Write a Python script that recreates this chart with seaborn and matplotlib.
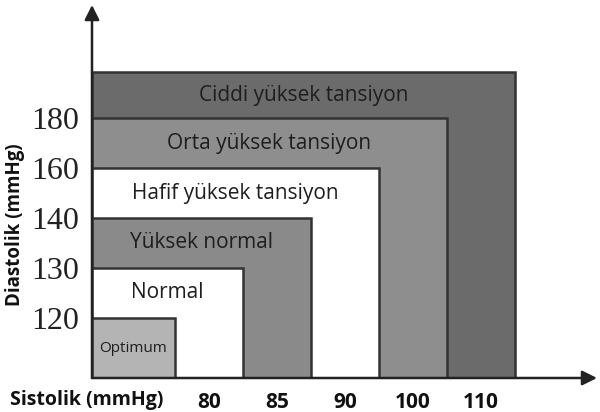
import numpy as np
import matplotlib.pyplot as plt
import seaborn as sns

# categories from the innermost box to the outermost one
categories = ["Optimum", "Normal", "Yüksek normal", "Hafif yüksek tansiyon",
              "Orta yüksek tansiyon", "Ciddi yüksek tansiyon"]
sistolik_labels = ["80", "85", "90", "100", "110"]
diastolik_labels = ["120", "130", "140", "160", "180"]

# layout: size of each band on the ordinal axes
band_w = [1.22, 1.0, 1.0, 1.0, 1.0, 1.0]
band_h = [1.2, 1.0, 1.0, 1.0, 1.0, 0.92]
fills = ["#b4b4b4", "#ffffff", "#8a8a8a", "#ffffff", "#8e8e8e", "#6b6b6b"]
text_size = [11, 15, 15, 15, 15, 15]

sns.set_style("white")
plt.rcParams['font.family'] = ['Open Sans', 'DejaVu Sans']

right = np.cumsum(band_w)
top = np.cumsum(band_h)

fig = plt.figure(figsize=(6, 4.12), dpi=100)
ax = fig.add_axes([92 / 600, 34 / 412, 505 / 600, 373 / 412])
ax.set_xlim(0, 7.43)
ax.set_ylim(0, 7.46)

# outer boxes first so inner ones sit on top
for i in reversed(range(len(categories))):
    ax.bar(0, top[i], width=right[i], align='edge', color=fills[i],
           edgecolor='#333333', linewidth=1.8, zorder=2)
    y0 = top[i - 1] if i > 0 else 0
    ax.text(right[i] / 2, (y0 + top[i]) / 2, categories[i],
            ha='center', va='center', fontsize=text_size[i],
            color='#1e1e1e', zorder=3)

for s in ax.spines.values():
    s.set_visible(False)

arrow = dict(arrowstyle='-|>', color='#222222', lw=1.8,
             mutation_scale=22, shrinkA=0, shrinkB=0)
ax.annotate("", xy=(1, 0), xytext=(0, 0), xycoords='axes fraction',
            arrowprops=arrow, zorder=4)
ax.annotate("", xy=(0, 1), xytext=(0, 0), xycoords='axes fraction',
            arrowprops=arrow, zorder=4)

centers = (right[:-1] + right[1:]) / 2
ax.set_xticks(centers, sistolik_labels)
ax.set_yticks(top[:5], diastolik_labels)
ax.tick_params(length=0)
ax.tick_params(axis='x', pad=10, labelsize=15, labelcolor='#111111')
ax.tick_params(axis='y', pad=9, labelsize=23, labelcolor='#222222')
for lab in ax.get_xticklabels():
    lab.set_fontweight('bold')
for lab in ax.get_yticklabels():
    lab.set_fontfamily('Liberation Serif')

fig.text(10 / 600, 1 - 400 / 412, "Sistolik (mmHg)", ha='left', va='center',
         fontsize=14, fontweight='bold', color='#111111')
fig.text(15 / 600, 1 - 225 / 412, "Diastolik (mmHg)", ha='center', va='center',
         rotation=90, fontsize=13.5, fontweight='bold', color='#111111')

fig.savefig("out.png", dpi=100)
